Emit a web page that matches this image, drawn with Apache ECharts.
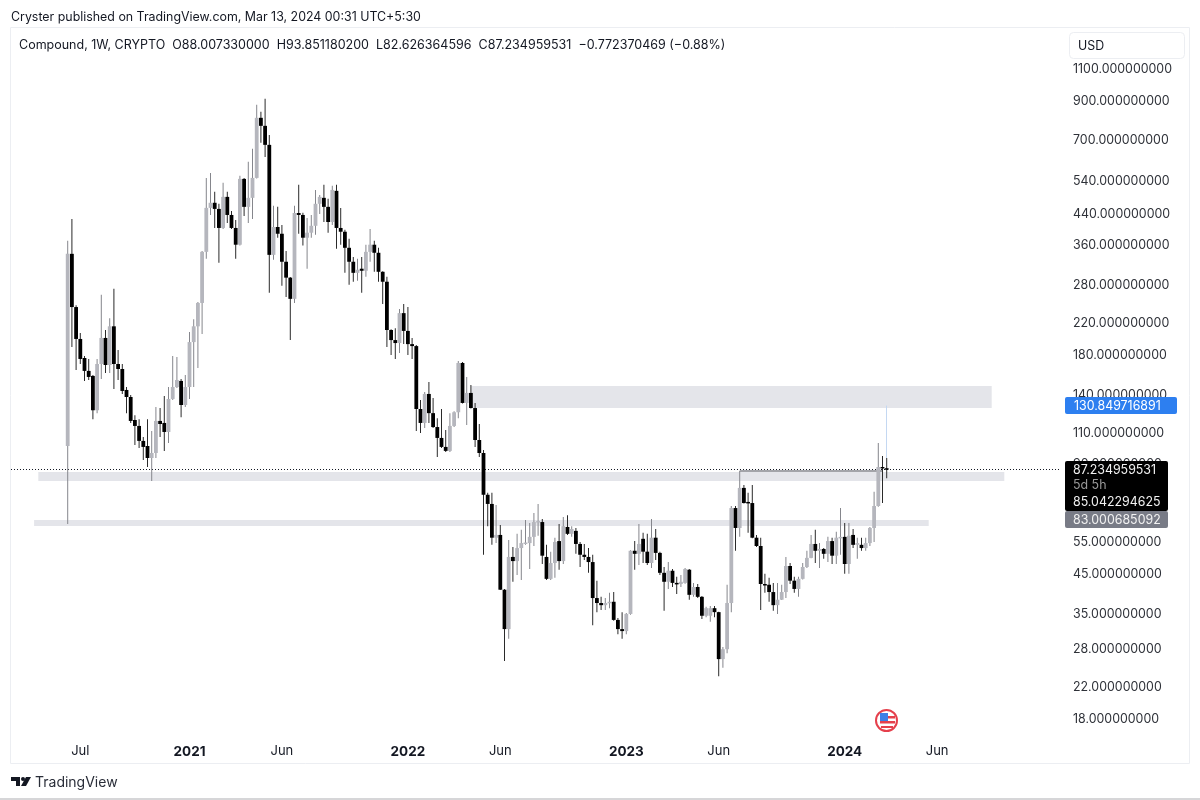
<!DOCTYPE html>
<html>
<head>
<meta charset="utf-8">
<title>Compound, 1W</title>
<script src="https://cdn.jsdelivr.net/npm/echarts@6/dist/echarts.min.js"></script>
<style>
html, body { margin: 0; padding: 0; background: #fff; }
#main { width: 1200px; height: 800px; }
</style>
</head>
<body>
<div id="main"></div>
<script>
const chart = echarts.init(document.getElementById("main"));

// weekly candles (first one is the week of 2020-06-15)
const firstWeek = "2020-06-15";
const opens = [101.3,341.7,244,199.4,176.8,162.9,157.8,127,170.2,200.7,169.1,216,170.2,164.9,144.4,138.1,119.4,115,104.6,101.3,93.9,96.9,118.7,117.2,110.7,136.4,147.1,152.9,131.3,147.1,195.5,216,250.4,346,457,472,454,402.5,490,437,402.5,362,549,460,487,552.5,808,768,681,339.5,405,388,325,293.9,257,442.5,437,378.4,390.6,408,469,487,460,418,509,402.5,393,355,325,303,311,307,346,362,344,305,286.4,211,198,194.3,234.8,209.8,193,190.6,128,117.2,140.8,124.7,114.2,106.6,100.7,98.2,115,125.4,171.3,133,141.7,128.8,105.2,96.9,74.4,70.2,56.7,57.7,40.8,31.8,50.2,48.9,53.1,54.8,54.8,57,62.6,62.6,50.2,43.7,48.3,55.5,48.9,60.7,58.1,59.2,54.5,50.9,50.2,48.6,38.7,37.5,37,37.5,37.8,33.7,31.8,31.4,35,52.2,51.2,56.3,51.9,48.3,56.7,51.5,45.4,42.9,46,42.6,42.3,42.6,46.3,39.5,41.5,39,34.6,34.6,36.3,35.4,26.3,28,37.5,68.4,60.3,77.7,71.1,70.6,56.7,53.8,42.3,42.1,40.2,37,38.3,40.2,47.4,43.2,41,43.7,47.1,49.9,54.5,52.2,52.8,51.2,55.5,50.6,56.7,57,48,57.7,54.2,54.2,53.1,54.8,60.3,69.3,88.7,88.00733];
const closes = [341.7,244,199.4,175.7,162.9,156.8,127,170.2,200.7,169.1,216,170.2,164.9,143.5,138.1,118.7,115,104.6,100.7,93.9,96.9,118.7,116.4,110.7,136.4,147.1,153.8,131.3,147.1,195.5,216,250.4,346,457,472,454,402.5,490,437,402.5,362,549,460,487,552.5,808,768,681,339.5,405,388,325,293.9,257,442.5,437,378.4,390.6,408,469,490,460,418,512,402.5,393,355,325,303,309,307,346,362,344,305,286.4,211,198,194.3,234.8,209.8,193,190.6,128,117.2,140.8,124.7,114.2,106.6,100.7,98.2,115,125.4,171.3,133,141.7,128.8,105.2,96.9,74.4,70.2,56.7,57.7,40.8,31.8,50.2,48.9,53.1,54.8,55,57,62.6,63,50.6,43.7,48.3,55.2,48.9,61,58.1,59.9,54.5,50.9,50.2,48.6,38.7,37.5,37,37.5,37.8,33.7,31.8,31.4,35,52.2,51.2,54.5,51.9,48.3,56.7,51.5,45.4,42.9,46,42.6,42.3,42.9,46.5,39.5,41.5,39,34.6,36.3,36.3,35.4,26.3,28,37.5,68.4,60.3,77.7,70.6,70.6,56.7,53.8,42.3,42.1,40.2,37,38.3,40.2,47.4,43.2,41,43.7,47.1,49.9,54.5,52.2,52.8,51.2,55.5,50.6,56.7,57,48,57.4,54.2,54.8,53.1,54.8,60.3,69.3,88.7,88,87.234959531];
const highs = [371,426,247,207,179,175.7,158.8,175.7,263.6,211,227.4,274,186,170.2,147.1,139.9,123.1,120,107.2,120,111.4,129.6,128.8,139,147.1,179,177.9,154.8,158.8,208.5,226,252,348,552.5,570,506,469,536,506,448,423.5,560,552.5,612,664,877,839.5,911,725,463,460,410,348,295,463,529,443,429,437,512,496,529,484,526,529,457,398,376,335,331,335,362,400,371,355,306,295.7,212,213.3,241,248.8,244,200.7,191.8,135.5,142.6,151.9,137.3,120.8,128,112.1,124.7,126.2,173.5,172.4,156.8,149,133,116.4,98.8,75.3,75.3,69.7,61.4,41,55.9,53.5,58.1,59.6,63.4,62.2,66.3,70.2,63.8,54.2,51.9,56.7,61.8,64.6,65.4,61,60.3,55.2,54.5,53.1,50.9,43.2,39,38.7,40,40.2,34.1,35.4,35.2,52.4,55.5,61.8,58.5,58.1,63.8,59.9,51.9,47.1,48.6,46.5,44.3,44.8,46.8,46.5,42.6,42.3,39.2,36.6,36.8,36.8,35.5,28.4,42.1,69.3,69.3,86.5,79.2,75.3,79.2,57.7,56.7,45.1,44,42.6,42.6,42.1,50.2,48.3,44.3,44.3,48.3,52.2,57.7,59.6,54.8,53.1,57,56.7,58.9,68.4,62.2,62.2,59.9,56.7,56.7,56.7,60.7,75.8,103.3,95.1,93.85118];
const lows = [61.8,189.4,163.9,170.2,152.9,153.8,120,124.7,154.8,160.8,160.8,145.3,153.8,140.8,124.7,117.2,102,100,92.7,88.7,81.2,93.9,107.2,98.2,103.3,135.5,146.2,121.5,129.6,136.4,147.1,166,205.8,331,437,402.5,323,400,415.5,400,331,360,434,415.5,426,550,690,631,267,329,378.4,279.3,260,198,250.4,388,360,311,378.4,385.6,440,418,390.6,410,353,362,303,281,286.4,288,267,295.7,325,305,286.4,248.8,189.4,180.2,175.7,182.5,193,180.2,175.7,111.4,110,113.5,117.2,113.5,94.5,100,97.5,97.5,114.2,120.8,132.5,115.7,128.5,100.7,94.5,50.9,61,54.2,54.8,40.7,26,29.9,42.9,44.8,43.4,54.2,46.5,53.8,57.4,48,43.4,43.4,44,46.3,48,57.7,57,51.2,47.1,49.2,45.4,32.6,35.4,35.9,35.9,36.3,33.5,30.8,29.9,30.8,34.8,46.3,47.7,48.3,47.7,46.8,49.2,44.8,35.7,41,41.5,39.7,41.5,42.4,38.3,39,38.7,33.9,34.3,33.3,34.3,23.6,24.9,27.3,35.4,52.2,57,70.4,58.5,56.5,53.5,35.9,40,37.8,35.7,35,38.2,38.7,42.3,40,39,43.5,46.8,49.8,48.3,46.8,49.6,48.6,48,48,50.9,45.1,45.1,53.1,49.6,52.2,52.2,53.8,55.2,69,70.6,82.626364596];

// price zones [from week, to week, low, high]
const zoneTop = ["2022-04-18", "2024-09-02", 128.9, 148.1];
const zoneMid = ["2020-04-27", "2024-09-23", 81.2, 85.9];
const zoneLow = ["2020-04-20", "2024-05-20", 61.1, 63.4];

const lastPrice = 87.234959531;
const askPrice = 130.849716891;
const levelStart = "2023-07-10";
const levelEnd = "2024-03-04";
const levelPrice = 86.5;

const priceTicks = [18, 22, 28, 35, 45, 55, 70, 90, 110, 140, 180, 220, 280, 360, 440, 540, 700, 900, 1100];
const timeTicks = { "2020-07-06": "Jul", "2021-01-04": "2021", "2021-06-07": "Jun", "2022-01-03": "2022", "2022-06-06": "Jun", "2023-01-02": "2023", "2023-06-05": "Jun", "2024-01-01": "2024", "2024-06-03": "Jun" };

const blankBefore = 13;
const totalWeeks = 250;
const week = 7 * 24 * 3600 * 1000;
const start = Date.parse(firstWeek + "T00:00:00Z") - blankBefore * week;
const categories = [];
for (let i = 0; i < totalWeeks; i++) {
    categories.push(new Date(start + i * week).toISOString().slice(0, 10));
}
const candles = opens.map((o, i) => [blankBefore + i, o, closes[i], lows[i], highs[i]]);

const font = "Inter, 'Liberation Sans', sans-serif";
const ink = "#131722";

function zoneArea(z) {
    return [{ xAxis: z[0], yAxis: z[3] }, { xAxis: z[1], yAxis: z[2] }];
}

function drawCandle(params, api) {
    const i = api.value(0), o = api.value(1), c = api.value(2), l = api.value(3), h = api.value(4);
    const x = api.coord([i, o])[0];
    const yo = api.coord([i, o])[1], yc = api.coord([i, c])[1];
    const yl = api.coord([i, l])[1], yh = api.coord([i, h])[1];
    const down = c < o;
    const top = Math.min(yo, yc);
    return {
        type: "group",
        children: [
            { type: "rect", shape: { x: x - 0.5, y: yh, width: 1, height: yl - yh }, style: { fill: down ? "#2a2a2a" : "#85868c" } },
            { type: "rect", shape: { x: x - 1.9, y: top, width: 3.8, height: Math.max(Math.abs(yc - yo), 1.5) }, style: { fill: down ? "#000000" : "#b5b6bd" } }
        ]
    };
}

function tagText(x, y, text, fill) {
    return { type: "text", z: 102, x: x, y: y, style: { text: text, fill: fill, font: "12.4px " + font, textVerticalAlign: "middle" } };
}

const option = {
    animation: false,
    backgroundColor: "#ffffff",
    grid: { left: 11, right: 139, top: 33, bottom: 65 },
    xAxis: {
        type: "category",
        data: categories,
        boundaryGap: true,
        axisLine: { show: false },
        axisTick: { show: false },
        splitLine: { show: false },
        axisLabel: {
            margin: 10,
            interval: (index, value) => timeTicks[value] !== undefined,
            hideOverlap: false,
            formatter: (value) => {
                const t = timeTicks[value] || "";
                return t.length === 4 ? "{year|" + t + "}" : "{month|" + t + "}";
            },
            rich: {
                year: { fontFamily: font, fontSize: 13.5, fontWeight: "bold", color: ink },
                month: { fontFamily: font, fontSize: 13, color: ink }
            }
        }
    },
    yAxis: {
        type: "log",
        logBase: 10,
        position: "right",
        min: 16.27,
        max: 1382,
        axisLine: { show: false },
        axisTick: { show: false },
        splitLine: { show: false },
        axisLabel: {
            margin: 12,
            fontFamily: font,
            fontSize: 12.4,
            color: "#2e3138",
            padding: [4, 0, 0, 0],
            customValues: priceTicks,
            formatter: (v) => Number(v).toFixed(9)
        }
    },
    series: [
        {
            type: "line",
            data: [],
            z: 1,
            silent: true,
            markArea: {
                silent: true,
                itemStyle: { color: "#e4e5ea" },
                data: [zoneArea(zoneTop), zoneArea(zoneMid), zoneArea(zoneLow)]
            }
        },
        {
            type: "custom",
            name: "Compound",
            z: 5,
            clip: false,
            data: candles,
            encode: { x: 0, y: [1, 2, 3, 4] },
            renderItem: drawCandle,
            markLine: {
                silent: true,
                symbol: "none",
                label: { show: false },
                data: [
                    { yAxis: lastPrice, lineStyle: { color: "#131722", type: [1, 2], width: 1 } },
                    [
                        { xAxis: levelStart, yAxis: levelPrice, lineStyle: { color: "#85868c", type: "solid", width: 1.5 } },
                        { xAxis: levelEnd, yAxis: levelPrice }
                    ],
                    [
                        { xAxis: categories[blankBefore + opens.length - 1], yAxis: highs[highs.length - 1], lineStyle: { color: "#c4d8f2", type: "solid", width: 1 } },
                        { xAxis: categories[blankBefore + opens.length - 1], yAxis: askPrice }
                    ]
                ]
            }
        }
    ],
    graphic: [
        { type: "rect", z: 0, shape: { x: 10.5, y: 27.5, width: 1179, height: 736 }, style: { fill: "none", stroke: "#eceef2", lineWidth: 1 } },
        { type: "rect", z: 0, shape: { x: 0, y: 798, width: 1200, height: 2 }, style: { fill: "#d6d6d8" } },
        { type: "text", x: 11, y: 17, style: { text: "Cryster published on TradingView.com, Mar 13, 2024 00:31 UTC+5:30", fill: ink, font: "12.4px " + font, textVerticalAlign: "middle" } },
        { type: "text", x: 19, y: 45, style: { text: "Compound, 1W, CRYPTO  O88.007330000  H93.851180200  L82.626364596  C87.234959531  \u22120.772370469 (\u22120.88%)", fill: ink, font: "12.5px " + font, textVerticalAlign: "middle" } },
        { type: "rect", z: 90, shape: { x: 1069.5, y: 32.5, width: 115, height: 26, r: 4 }, style: { fill: "#fff", stroke: "#eceef2" } },
        { type: "text", z: 91, x: 1078, y: 46, style: { text: "USD", fill: ink, font: "12.4px " + font, textVerticalAlign: "middle" } },

        // price tags on the scale
        { type: "rect", z: 100, shape: { x: 1065, y: 397, width: 112, height: 17, r: 2 }, style: { fill: "#2d7ff0" } },
        tagText(1074, 406, "130.849716891", "#ffffff"),
        { type: "rect", z: 100, shape: { x: 1065, y: 461, width: 103, height: 50, r: 2 }, style: { fill: "#000000" } },
        tagText(1073, 470.5, "87.234959531", "#f2f2f2"),
        tagText(1073, 485.5, "5d 5h", "#9a9a9a"),
        tagText(1073, 502, "85.042294625", "#f2f2f2"),
        { type: "rect", z: 100, shape: { x: 1065, y: 511, width: 103, height: 17, r: 2 }, style: { fill: "#787b86" } },
        tagText(1073, 520, "83.000685092", "#f2f2f2"),

        // economic event flag
        { type: "circle", z: 110, shape: { cx: 886.5, cy: 720.5, r: 10.5 }, style: { fill: "#ffffff", stroke: "#e5404c", lineWidth: 2 } },
        { type: "rect", z: 111, shape: { x: 880, y: 713, width: 8, height: 8 }, style: { fill: "#3d7fe6" } },
        { type: "rect", z: 111, shape: { x: 888, y: 716, width: 7, height: 2.5 }, style: { fill: "#e5404c" } },
        { type: "rect", z: 111, shape: { x: 880, y: 721, width: 15, height: 2.5 }, style: { fill: "#e5404c" } },
        { type: "rect", z: 111, shape: { x: 881, y: 726, width: 12, height: 2 }, style: { fill: "#e5404c" } },

        // TradingView mark
        { type: "polygon", shape: { points: [[11, 777], [20, 777], [20, 786], [16, 786], [16, 781], [11, 781]] }, style: { fill: ink } },
        { type: "circle", shape: { cx: 23, cy: 779, r: 2 }, style: { fill: ink } },
        { type: "polygon", shape: { points: [[26, 777], [31, 777], [26, 786], [21, 786]] }, style: { fill: ink } },
        { type: "text", x: 35, y: 783, style: { text: "TradingView", fill: "#2a2e39", font: "14px " + font, textVerticalAlign: "middle" } }
    ]
};

chart.setOption(option);

window.onresize = function () {
    chart.resize();
};
</script>
</body>
</html>
